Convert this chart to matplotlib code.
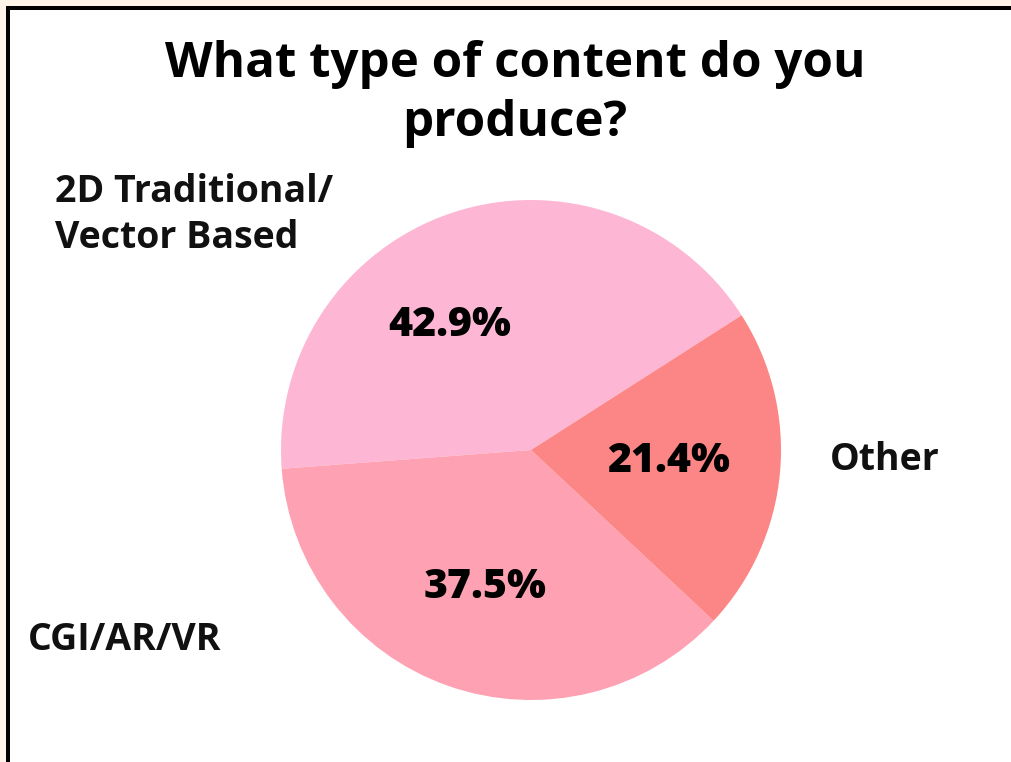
import matplotlib
matplotlib.use('Agg')
import matplotlib.pyplot as plt
from matplotlib.patches import Rectangle

plt.rcParams['font.family'] = ['Open Sans', 'DejaVu Sans']

# data
categories = ['2D Traditional/\nVector Based', 'CGI/AR/VR', 'Other']
values = [42.9, 37.5, 21.4]
colors = ['#FDB6D4', '#FEA1B3', '#FC8585']

W, H = 1011, 762
fig = plt.figure(figsize=(W / 100, H / 100), dpi=100)
fig.patch.set_facecolor('#FFF4EA')

# white card with black top/left border
fig.patches.append(Rectangle((6 / W, 0), 1, 1 - 6 / H, transform=fig.transFigure,
                             facecolor='white', edgecolor='none', zorder=-2))
fig.patches.append(Rectangle((6 / W, 1 - 10 / H), 1, 4 / H, transform=fig.transFigure,
                             facecolor='black', edgecolor='none', zorder=-1))
fig.patches.append(Rectangle((6 / W, 0), 4 / W, 1 - 6 / H, transform=fig.transFigure,
                             facecolor='black', edgecolor='none', zorder=-1))

ax = fig.add_axes([0, 0, 1, 1])
ax.set_facecolor('none')
wedges, _ = ax.pie(values, colors=colors, startangle=32.6, counterclock=True,
                   radius=1, center=(0, 0), wedgeprops=dict(linewidth=0))
ax.set_aspect('auto')
ax.set_xlim(-531 / 250, (W - 531) / 250)
ax.set_ylim(-(H - 450) / 250, 450 / 250)
ax.axis('off')

# category labels
label_pos = [(-1.904, 0.94), (-2.012, -0.76), (1.196, -0.04)]
for name, (x, y) in zip(categories, label_pos):
    ax.text(x, y, name, ha='left', va='center', fontsize=27, fontweight='bold',
            linespacing=1.25, color='#111111')

# percentage labels
pct_pos = [(-0.324, 0.5), (-0.184, -0.552), (0.548, -0.048)]
for v, (x, y) in zip(values, pct_pos):
    ax.text(x, y, f'{v}%', ha='center', va='center', fontsize=29.5, fontweight='heavy',
            color='black')

fig.text(515 / W, 1 - 94 / H, 'What type of content do you\nproduce?', ha='center',
         va='center', fontsize=35.5, fontweight='bold', linespacing=1.25)

fig.savefig('out.png', dpi=100, facecolor=fig.get_facecolor())
